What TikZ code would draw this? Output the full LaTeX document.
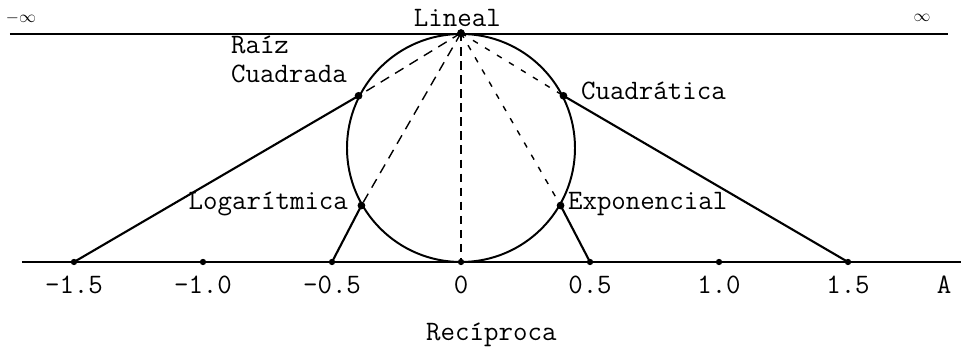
\documentclass[tikz,border=0pt]{standalone}
\usepackage{fontspec}
\usepackage{tikz}
\usetikzlibrary{positioning}

\tikzset{
  lbl/.style={font=\fontsize{20}{21}\selectfont\ttfamily, inner sep=0pt},
  ptdot/.style={circle, fill, inner sep=0pt, minimum size=5.5pt},
  tickdot/.style={circle, fill, inner sep=0pt, minimum size=4.5pt},
  longdash/.style={line width=1pt, dash pattern=on 7pt off 5pt},
  shortdash/.style={line width=1pt, dash pattern=on 4pt off 6pt},
}

\begin{document}
\begin{tikzpicture}[line width=1.5pt]
  \useasboundingbox (-11.525,-2.175) rectangle (12.5,6.55);
  % rectas horizontales
  \draw[line width=1.8pt] (-10.975,0) coordinate (ejeL) -- (12.5,0) coordinate (ejeR);
  \draw[line width=1.8pt] (-11.275,5.7) coordinate (supL) -- (12.175,5.7) coordinate (supR);
  % circulo
  \node[circle, draw, line width=1.4pt, minimum size=5.7cm, inner sep=0pt] (circ) at (0,2.85) {};
  \node[ptdot] (tope) at (circ.north) {};
  \node[ptdot] (raiz) at (circ.153) {};
  \node[ptdot] (cuad) at (circ.27) {};
  \node[ptdot] (loga) at (circ.210) {};
  \node[ptdot] (expo) at (circ.330) {};
  % escala
  \foreach \v/\n in {-1.5/1,-1.0/2,-0.5/3,0/4,0.5/5,1.0/6,1.5/7} {
    \node[tickdot] (t\n) at (\v*6.45,0) {};
    \node[lbl, anchor=base] (l\n) at (\v*6.45,-0.78) {\v};
  }
  \node[lbl, anchor=base] (ejeA) at (12.08,-0.78) {A};
  % proyecciones
  \draw (t1.center) -- (raiz.center);
  \draw (t3.center) -- (loga.center);
  \draw (t5.center) -- (expo.center);
  \draw (t7.center) -- (cuad.center);
  \draw[longdash] (tope.center) -- (raiz.center);
  \draw[longdash] (tope.center) -- (loga.center);
  \draw[line width=1pt, dash pattern=on 6pt off 4pt] (tope.center) -- (t4.center);
  \draw[shortdash] (tope.center) -- (expo.center);
  \draw[shortdash] (tope.center) -- (cuad.center);
  % etiquetas
  \node[lbl, anchor=base] (lineal) at (-0.09,5.875) {Lineal};
  \node[lbl, anchor=base west, align=left] (lraiz) at (-5.775,4.475) {Raíz\\Cuadrada};
  \node[lbl, anchor=base west] (lcuad) at (2.975,4.05) {Cuadrática};
  \node[lbl, anchor=base east] (lloga) at (-2.8,1.3) {Logarítmica};
  \node[lbl, anchor=base west] (lexpo) at (2.65,1.3) {Exponencial};
  \node[lbl, anchor=base] (lreci) at (0.76,-1.975) {Recíproca};
  \node[font=\large] (minf) at (-11.0,6.1) {$-\infty$};
  \node[font=\large] (pinf) at (11.525,6.1) {$\infty$};
\end{tikzpicture}
\end{document}
